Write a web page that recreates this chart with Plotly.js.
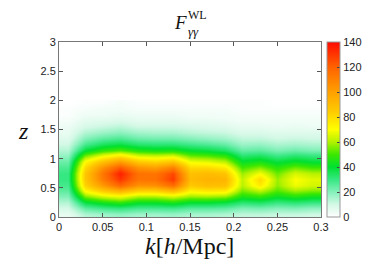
<!DOCTYPE html>
<html>
<head>
<meta charset="utf-8">
<script src="https://cdn.plot.ly/plotly-3.0.1.min.js"></script>
<style>html,body{margin:0;padding:0;background:#fff;}#chart{width:379px;height:266px;}</style>
</head>
<body>
<div id="chart"></div>
<script>
// wavenumber bins k [h/Mpc]
var kBins = [0.01, 0.03, 0.05, 0.07, 0.09, 0.11, 0.13, 0.15, 0.17, 0.19, 0.21, 0.23, 0.25, 0.27, 0.29];
// redshift bins z
var zBins = [0.05, 0.15, 0.25, 0.35, 0.45, 0.55, 0.65, 0.75, 0.85, 0.95, 1.05, 1.15, 1.25, 1.35, 1.45, 1.55, 1.65, 1.75, 1.85, 1.95];
// F_gg^WL, one profile along z per k bin
var f_k001 = [5, 9, 14, 20, 25, 28, 30, 30, 27, 23, 18, 14, 10, 7, 5, 4, 2, 1, 1, 0];
var f_k003 = [14, 24, 38, 55, 72, 82, 86, 86, 80, 71, 54, 39, 28, 20, 14, 9, 6, 4, 2, 1];
var f_k005 = [16, 28, 44, 64, 86, 102, 112, 114, 105, 88, 67, 48, 35, 25, 17, 11, 7, 4, 3, 1];
var f_k007 = [18, 30, 48, 68, 95, 118, 130, 135, 122, 100, 75, 52, 38, 27, 19, 13, 8, 5, 3, 2];
var f_k009 = [16, 27, 42, 60, 84, 104, 114, 115, 104, 85, 64, 46, 33, 23, 16, 10, 6, 4, 2, 1];
var f_k011 = [16, 27, 42, 60, 84, 105, 115, 114, 100, 81, 62, 44, 32, 22, 15, 10, 6, 4, 2, 1];
var f_k013 = [17, 28, 45, 64, 92, 116, 129, 126, 110, 86, 64, 45, 32, 22, 15, 10, 6, 4, 2, 1];
var f_k015 = [15, 25, 40, 58, 74, 85, 90, 88, 80, 68, 53, 40, 29, 20, 13, 9, 5, 3, 2, 1];
var f_k017 = [15, 25, 40, 59, 77, 89, 93, 90, 80, 66, 51, 38, 27, 18, 12, 8, 5, 3, 2, 1];
var f_k019 = [14, 24, 38, 57, 76, 88, 92, 87, 75, 61, 47, 34, 24, 16, 11, 7, 4, 3, 2, 1];
var f_k021 = [12, 20, 32, 45, 55, 61, 62, 58, 50, 41, 32, 24, 17, 12, 8, 5, 3, 2, 1, 1];
var f_k023 = [12, 21, 34, 48, 62, 75, 80, 69, 56, 44, 34, 25, 18, 12, 8, 5, 3, 2, 1, 1];
var f_k025 = [11, 19, 30, 42, 52, 57, 58, 54, 47, 38, 29, 21, 15, 10, 7, 4, 3, 2, 1, 0];
var f_k027 = [11, 20, 32, 46, 59, 68, 70, 65, 54, 42, 32, 23, 16, 11, 7, 5, 3, 2, 1, 0];
var f_k029 = [10, 18, 30, 43, 56, 64, 66, 61, 50, 39, 30, 21, 15, 10, 7, 4, 3, 2, 1, 0];
var cbTicks = [0, 20, 40, 60, 80, 100, 120, 140];
var xTicks = [0, 0.05, 0.1, 0.15, 0.2, 0.25, 0.3];
var yTicks = [0, 0.5, 1, 1.5, 2, 2.5, 3];

var byK = [f_k001, f_k003, f_k005, f_k007, f_k009, f_k011, f_k013, f_k015,
           f_k017, f_k019, f_k021, f_k023, f_k025, f_k027, f_k029];

var tickFont = {family: 'Liberation Sans, Arial, sans-serif', size: 11, color: '#222'};
var serif = 'Liberation Serif, Times New Roman, serif';

var trace = {
  type: 'heatmap',
  x: kBins,
  y: zBins,
  z: byK,
  transpose: true,
  zsmooth: 'best',
  zmin: 0, zmax: 140,
  colorscale: [
    [0, '#ffffff'], [0.07, '#d4f9e6'], [0.143, '#84f1ba'], [0.214, '#36e882'],
    [0.286, '#00e030'], [0.357, '#3ce800'], [0.43, '#b4f200'], [0.5, '#ffff00'],
    [0.6, '#ffcc00'], [0.714, '#ffa000'], [0.857, '#ff6200'], [1, '#ff0a00']
  ],
  colorbar: {
    x: 1.023, xanchor: 'left', xpad: 0, y: 0.5, yanchor: 'middle', len: 1, ypad: 0,
    thickness: 13, outlinewidth: 1, outlinecolor: '#999',
    tickvals: cbTicks, ticks: 'inside', ticklen: 3, tickcolor: '#444',
    tickprefix: ' ',
    tickfont: tickFont
  },
  hoverinfo: 'skip'
};

var axisCommon = {
  showgrid: false, zeroline: false, showline: true, mirror: 'ticks',
  linecolor: '#777', linewidth: 1, ticks: 'inside', ticklen: 4, tickcolor: '#555',
  tickfont: tickFont
};

var layout = {
  width: 379, height: 266,
  margin: {l: 58.5, r: 58, t: 42, b: 49, pad: 0},
  paper_bgcolor: '#fff', plot_bgcolor: '#fff',
  showlegend: false,
  xaxis: Object.assign({}, axisCommon, {range: [0, 0.3], tickvals: xTicks, title: {text: ''}}),
  yaxis: Object.assign({}, axisCommon, {range: [0, 3], tickvals: yTicks, title: {text: ''}}),
  annotations: [
    {xref: 'paper', yref: 'paper', x: 0.499, y: -0.165, xanchor: 'center', yanchor: 'middle',
     text: '<i>k</i>[<i>h</i>/Mpc]', showarrow: false, font: {family: serif, size: 24, color: '#111'}},
    {xref: 'paper', yref: 'paper', x: -0.108, y: 0.49, xanchor: 'right', yanchor: 'middle',
     text: '<i>z</i>', showarrow: false, font: {family: serif, size: 24, color: '#111'}},
    {xref: 'paper', yref: 'paper', x: 0.463, y: 1.11, xanchor: 'center', yanchor: 'middle',
     text: '<i>F</i>', showarrow: false, font: {family: serif, size: 19, color: '#111'}},
    {xref: 'paper', yref: 'paper', x: 0.484, y: 1.155, xanchor: 'left', yanchor: 'middle',
     text: 'WL', showarrow: false, font: {family: serif, size: 12, color: '#111'}},
    {xref: 'paper', yref: 'paper', x: 0.484, y: 1.06, xanchor: 'left', yanchor: 'middle',
     text: '<i>γγ</i>', showarrow: false, font: {family: serif, size: 13, color: '#111'}}
  ]
};

Plotly.newPlot('chart', [trace], layout, {displayModeBar: false, staticPlot: true});
</script>
</body>
</html>
